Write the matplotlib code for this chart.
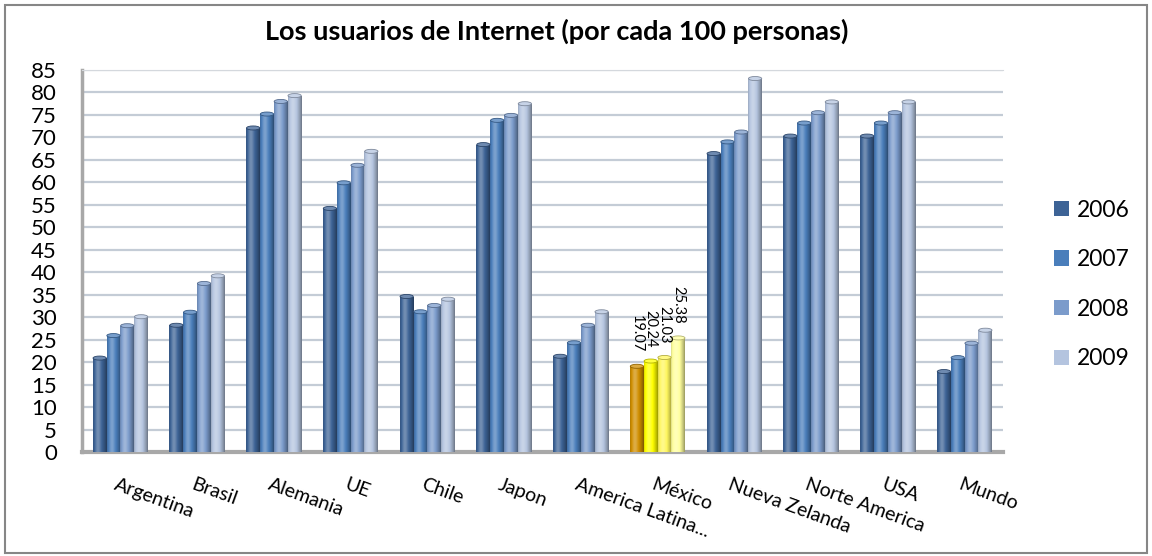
import matplotlib
matplotlib.use("Agg")
import matplotlib.pyplot as plt
import numpy as np
from matplotlib.patches import Ellipse, Rectangle
from matplotlib.colors import to_rgb

plt.rcParams['font.family'] = ['Lato', 'DejaVu Sans']

countries = ['Argentina', 'Brasil', 'Alemania', 'UE', 'Chile', 'Japon',
             'America Latina...', 'México', 'Nueva Zelanda', 'Norte America',
             'USA', 'Mundo']
years = ['2006', '2007', '2008', '2009']

v2006 = [20.9, 28.2, 72.1, 54.2, 34.6, 68.4, 21.3, 19.07, 66.4, 70.3, 70.3, 17.9]
v2007 = [25.9, 31.1, 75.2, 59.9, 31.2, 73.8, 24.3, 20.24, 69.0, 73.2, 73.2, 21.0]
v2008 = [28.1, 37.5, 78.0, 63.8, 32.6, 74.9, 28.2, 21.03, 71.2, 75.5, 75.5, 24.2]
v2009 = [30.1, 39.2, 79.3, 66.9, 34.0, 77.5, 31.2, 25.38, 83.1, 77.9, 77.9, 27.1]
series = [v2006, v2007, v2008, v2009]

mexico_labels = ['19.07', '20.24', '21.03', '25.38']
highlight = 'México'

blue_colors = ['#3D6396', '#4A7EBB', '#7B9BCB', '#B4C4DF']
mexico_colors = ['#D08E00', '#FFFF00', '#FFF75E', '#FFFF9E']


def mix(color, f):
    c = np.array(to_rgb(color))
    if f >= 0:
        return c + (1 - c) * f
    return c * (1 + f)


def cylinder(color, n=48):
    t = np.linspace(0, 1, n)
    f = 0.28 * np.exp(-((t - 0.35) / 0.22) ** 2) - 0.4 * (np.abs(t - 0.4) / 0.6) ** 2.2
    return np.array([[mix(color, v) for v in f]])


fig = plt.figure(figsize=(11.52, 5.56), dpi=100)
ax = fig.add_axes([82 / 1152, 1 - 452 / 556, (1003 - 82) / 1152, (452 - 70) / 556])

x = np.arange(len(countries))
width = 0.18
containers = []
for k, vals in enumerate(series):
    cols = [mexico_colors[k] if c == highlight else blue_colors[k] for c in countries]
    bars = ax.bar(x + (k - 1.5) * width, vals, width, color=cols, zorder=2, linewidth=0)
    containers.append(bars)
    for rect, col in zip(bars, cols):
        x0, y0 = rect.get_xy()
        w, h = rect.get_width(), rect.get_height()
        im = ax.imshow(cylinder(col), extent=(x0, x0 + w, 0, h), aspect='auto',
                       interpolation='bilinear', zorder=3)
        im.set_clip_path(rect)
        cap = Ellipse((x0 + w / 2, h), w * 0.96, 0.9, facecolor=mix(col, 0.25),
                      edgecolor=mix(col, -0.3), linewidth=0.6, zorder=4)
        ax.add_patch(cap)

# data labels for Mexico
mi = countries.index(highlight)
for k, bars in enumerate(containers):
    rect = bars[mi]
    ax.annotate(mexico_labels[k], (rect.get_x() + rect.get_width() / 2, rect.get_height()),
                xytext=(0, 14), textcoords='offset pixels', rotation=-90,
                ha='center', va='bottom', fontsize=10.5, zorder=5)

ax.set_xlim(-0.5, 11.5)
ax.set_ylim(0, 85)
ax.set_yticks(range(0, 86, 5))
ax.tick_params(axis='y', length=0, labelsize=16, pad=18)
ax.set_xticks([])
ax.yaxis.grid(True, color='#C4CCD6', linewidth=1.6)
ax.set_axisbelow(True)
ax.spines['right'].set_visible(False)
ax.spines['top'].set_color('#D4D8DD')
ax.spines['left'].set_color('#A8A8A8')
ax.spines['left'].set_linewidth(2.5)
ax.spines['bottom'].set_color('#A8A8A8')
ax.spines['bottom'].set_linewidth(3)

for i, name in enumerate(countries):
    ax.annotate(name, (i - 0.03, 0), xytext=(0, -24), textcoords='offset pixels',
                rotation=-20, rotation_mode='anchor', ha='left', va='top',
                fontsize=14, annotation_clip=False)

fig.text(557 / 1152, 1 - 31 / 556, 'Los usuarios de Internet (por cada 100 personas)',
         ha='center', va='center', fontsize=19.5, fontweight='bold')

ax.legend(containers, years, loc='center left', bbox_to_anchor=(1054 / 1152, 1 - 284.5 / 556),
          bbox_transform=fig.transFigure, frameon=False, fontsize=16.5,
          handlelength=0.65, handleheight=0.65, handletextpad=0.35, labelspacing=1.25,
          borderpad=0, borderaxespad=0)

fig.add_artist(Rectangle((5 / 1152, 3 / 556), 1142 / 1152, 548 / 556, transform=fig.transFigure,
                         fill=False, edgecolor='#868686', linewidth=1.5))

fig.savefig('out.png', dpi=100)
